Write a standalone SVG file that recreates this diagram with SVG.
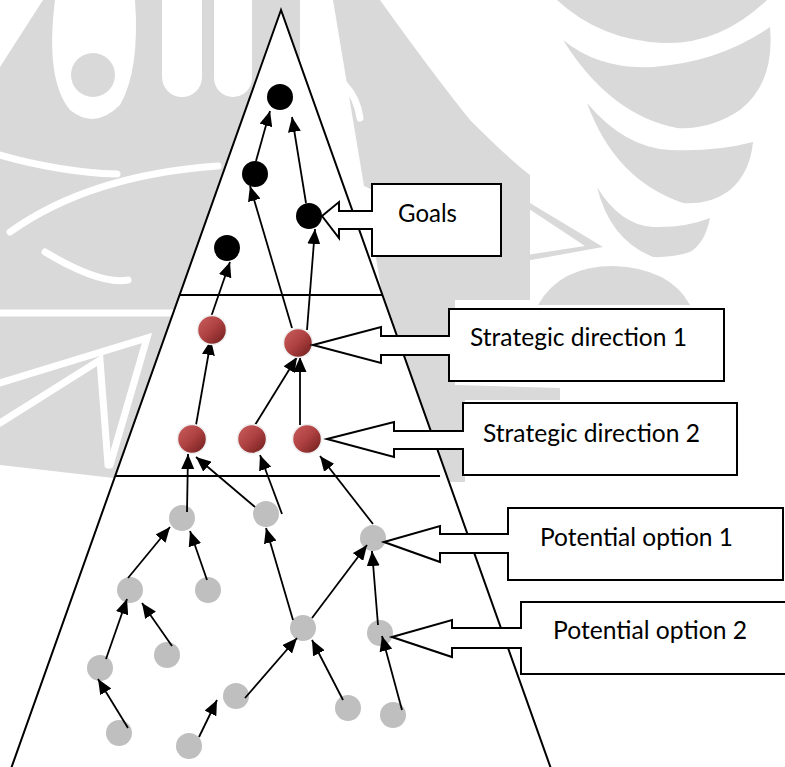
<svg xmlns="http://www.w3.org/2000/svg" width="785" height="767" viewBox="0 0 785 767">
<defs>
<style>
.wm{fill:#d9d9d9}
.wh{fill:#ffffff}
.whs{fill:none;stroke:#ffffff;stroke-width:7;stroke-linecap:round}
.edge{stroke:#000;stroke-width:1.8;fill:none;marker-end:url(#ah)}
.tri{fill:#fff;stroke:#000;stroke-width:2}
.sep{stroke:#000;stroke-width:2}
.blk{fill:#000}
.red{fill:url(#rg);stroke:#eeeeee;stroke-width:1.5}
.gry{fill:#bfbfbf}
.call{fill:#fff;stroke:#000;stroke-width:2;stroke-linejoin:miter}
.lbl{font-family:Lato,"Open Sans","Liberation Sans",sans-serif;font-size:25px;fill:#000}
</style>
<marker id="ah" markerUnits="userSpaceOnUse" markerWidth="15" markerHeight="13" refX="15" refY="6.5" orient="auto">
<path d="M0,0 L15,6.5 L0,13 Z" fill="#000"/>
</marker>
<linearGradient id="rg" x1="0" y1="0" x2="1" y2="1">
<stop offset="0" stop-color="#cc5e5e"/>
<stop offset="0.5" stop-color="#ad4040"/>
<stop offset="1" stop-color="#6a1a1a"/>
</linearGradient>
</defs>
<rect width="785" height="767" fill="#fff"/>
<g id="watermark">
<path class="wm" d="M0,67 L43,0 L300,0 L300,300 L175,485 L0,465 Z"/>
<path class="wh" d="M55,0 L135,0 Q140,70 120,105 Q95,130 70,110 Q45,80 55,0 Z"/>
<circle class="wm" cx="93" cy="75" r="22"/>
<rect class="wh" x="162" y="-20" width="40" height="117" rx="20"/>
<rect class="wh" x="214" y="-20" width="38" height="117" rx="19"/>
<path class="whs" d="M0,155 Q60,172 117,174"/>
<path class="whs" d="M10,232 Q90,175 218,166"/>
<path class="whs" d="M45,252 Q100,285 128,280"/>
<path class="whs" d="M0,313 L172,313"/>
<path class="whs" d="M0,383 L147,338 L110,465"/>
<path class="whs" d="M0,423 L100,360 L108,465"/>
<path class="wm" d="M333,0 L380,0 Q430,70 470,120 Q510,160 530,175 L530,300 L383,300 Z"/>
<path class="whs" d="M306,62 Q355,78 360,118"/>
<path class="wh" d="M338,184 Q360,182 372,190 L372,210 L340,210 Z"/>
<path class="wm" d="M557,0 L767,0 Q720,45 663,43 Q600,40 557,0 Z"/>
<path class="wm" d="M563,40 Q600,70 653,67 Q720,62 770,27 Q775,83 740,110 Q710,130 677,128 Q610,115 563,40 Z"/>
<path class="wm" d="M587,103 Q625,148 670,150 Q715,152 753,142 Q750,173 730,190 Q710,205 683,203 Q615,180 587,103 Z"/>
<path class="wm" d="M597,187 Q620,225 653,227 Q685,228 710,218 Q705,243 690,252 Q672,258 653,257 Q610,240 597,187 Z"/>
<path class="wm" d="M520,197 L603,247 L520,262 L520,256 L585,246 L520,203 Z"/>
<path class="wm" d="M538,305 Q560,266 613,266 Q670,268 690,305 Z"/>
<path class="wm" d="M383,295 L455,295 L455,385 L560,388 L560,400 L465,400 L465,482 L445,482 Z"/>
</g>
<polygon class="tri" points="281,10 7,780 555,780"/>
<line class="sep" x1="179" y1="295" x2="383" y2="295"/>
<line class="sep" x1="115" y1="476" x2="440" y2="476"/>
<g id="n-g1"><circle class="gry" cx="182" cy="518" r="13"/></g>
<g id="n-g2"><circle class="gry" cx="266" cy="514" r="13"/></g>
<g id="n-g3"><circle class="gry" cx="130" cy="590" r="13"/></g>
<g id="n-g4"><circle class="gry" cx="208" cy="590" r="13"/></g>
<g id="n-g5"><circle class="gry" cx="100" cy="668" r="13"/></g>
<g id="n-g6"><circle class="gry" cx="167" cy="655" r="13"/></g>
<g id="n-g7"><circle class="gry" cx="119" cy="733" r="13"/></g>
<g id="n-g8"><circle class="gry" cx="189" cy="746" r="13"/></g>
<g id="n-g9"><circle class="gry" cx="236" cy="696" r="13"/></g>
<g id="n-g10"><circle class="gry" cx="303" cy="628" r="13"/></g>
<g id="n-g11"><circle class="gry" cx="373" cy="538" r="13"/></g>
<g id="n-g12"><circle class="gry" cx="380" cy="633" r="13"/></g>
<g id="n-g13"><circle class="gry" cx="348" cy="708" r="13"/></g>
<g id="n-g14"><circle class="gry" cx="393" cy="715" r="13"/></g>
<g id="connectors">
<line class="edge" x1="256" y1="161" x2="270" y2="111"/>
<line class="edge" x1="306" y1="203" x2="292" y2="117"/>
<line class="edge" x1="292" y1="328" x2="250" y2="186"/>
<line class="edge" x1="307" y1="330" x2="315" y2="229"/>
<line class="edge" x1="211" y1="317" x2="230" y2="262"/>
<line class="edge" x1="196" y1="425" x2="211" y2="340"/>
<line class="edge" x1="255" y1="425" x2="297" y2="357"/>
<line class="edge" x1="300" y1="425" x2="300" y2="357"/>
<line class="edge" x1="187" y1="512" x2="188" y2="454"/>
<line class="edge" x1="255" y1="507" x2="196" y2="457"/>
<line class="edge" x1="282" y1="514" x2="260" y2="455"/>
<line class="edge" x1="373" y1="524" x2="320" y2="456"/>
<line class="edge" x1="128" y1="578" x2="170" y2="527"/>
<line class="edge" x1="207" y1="580" x2="190" y2="531"/>
<line class="edge" x1="106" y1="659" x2="127" y2="599"/>
<line class="edge" x1="172" y1="646" x2="142" y2="603"/>
<line class="edge" x1="128" y1="728" x2="98" y2="679"/>
<line class="edge" x1="199" y1="737" x2="217" y2="700"/>
<line class="edge" x1="245" y1="698" x2="297" y2="638"/>
<line class="edge" x1="293" y1="620" x2="266" y2="528"/>
<line class="edge" x1="312" y1="618" x2="367" y2="545"/>
<line class="edge" x1="343" y1="700" x2="312" y2="640"/>
<line class="edge" x1="378" y1="625" x2="372" y2="551"/>
<line class="edge" x1="402" y1="710" x2="382" y2="636"/>
</g>
<g id="n-sd1a"><circle class="red" cx="212" cy="330" r="14.5"/></g>
<g id="n-sd1b"><circle class="red" cx="298" cy="343" r="14.5"/></g>
<g id="n-sd2a"><circle class="red" cx="192" cy="439" r="14.5"/></g>
<g id="n-sd2b"><circle class="red" cx="252" cy="439" r="14.5"/></g>
<g id="n-sd2c"><circle class="red" cx="307" cy="439" r="14.5"/></g>
<g id="n-b1"><circle class="blk" cx="280" cy="97" r="13"/></g>
<g id="n-b2"><circle class="blk" cx="255" cy="174" r="13"/></g>
<g id="n-b3"><circle class="blk" cx="309" cy="216" r="13"/></g>
<g id="n-b4"><circle class="blk" cx="227" cy="248" r="13"/></g>
<g id="c-goals">
<polygon class="call" points="322,216 339,202 339,211 372,211 372,184 501,184 501,256 372,256 372,229 339,229 339,238"/>
<text class="lbl" x="398" y="222" textLength="59" lengthAdjust="spacingAndGlyphs">Goals</text>
</g>
<g id="c-sd1">
<polygon class="call" points="313,345 381,327 381,336 449,336 449,309 724,309 724,381 449,381 449,355 381,355 381,363"/>
<text class="lbl" x="470" y="346" textLength="217" lengthAdjust="spacingAndGlyphs">Strategic direction 1</text>
</g>
<g id="c-sd2">
<polygon class="call" points="327,439 394,422 394,431 463,431 463,403 737,403 737,475 463,475 463,449 394,449 394,457"/>
<text class="lbl" x="483" y="442" textLength="217" lengthAdjust="spacingAndGlyphs">Strategic direction 2</text>
</g>
<g id="c-po1">
<polygon class="call" points="384,542 440,526 440,534 508,534 508,508 783,508 783,580 508,580 508,553 440,553 440,562"/>
<text class="lbl" x="540" y="546" textLength="193" lengthAdjust="spacingAndGlyphs">Potential option 1</text>
</g>
<g id="c-po2">
<polygon class="call" points="392,637 452,620 452,628 521,628 521,602 800,602 800,674 521,674 521,648 452,648 452,657"/>
<text class="lbl" x="553" y="639" textLength="194" lengthAdjust="spacingAndGlyphs">Potential option 2</text>
</g>
</svg>
